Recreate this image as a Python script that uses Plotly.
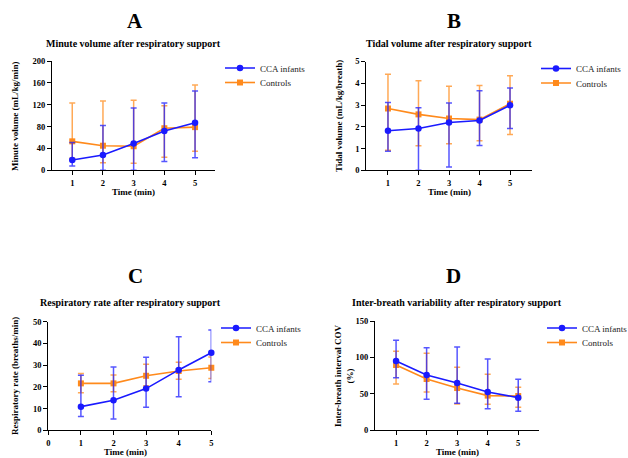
import plotly.graph_objects as go

W, H = 628, 458
time_min = [1, 2, 3, 4, 5]

# Panel A: Minute volume (mL/kg/min)
a_cca = [19, 28, 49, 72, 87]
a_cca_hi = [51, 82, 114, 123, 145]
a_cca_lo = [8, 0, 0, 16, 23]
a_ctl = [53, 45, 44, 77, 79]
a_ctl_hi = [123, 127, 128, 118, 156]
a_ctl_lo = [22, 14, 13, 24, 35]

# Panel B: Tidal volume (mL/kg/breath)
b_cca = [1.82, 1.92, 2.2, 2.29, 2.99]
b_cca_hi = [3.12, 2.88, 3.09, 3.66, 3.78]
b_cca_lo = [0.88, 0.0, 0.15, 1.14, 1.92]
b_ctl = [2.84, 2.57, 2.38, 2.33, 3.06]
b_ctl_hi = [4.41, 4.12, 3.86, 3.9, 4.35]
b_ctl_lo = [0.92, 1.13, 1.22, 1.36, 1.65]

# Panel C: Respiratory rate (breaths/min)
c_cca = [10.9, 13.8, 19.2, 27.8, 35.7]
c_cca_hi = [25.3, 29.1, 33.6, 43.1, 46.2]
c_cca_lo = [6.3, 5.2, 10.6, 15.5, 22.4]
c_ctl = [21.6, 21.6, 25.1, 27.3, 28.8]
c_ctl_hi = [26.1, 25.5, 30.4, 31.3, 33.7]
c_ctl_lo = [17.3, 17.8, 20.5, 23.5, 23.9]

# Panel D: Inter-breath interval COV (%)
d_cca = [95, 76, 65, 52.6, 44.8]
d_cca_hi = [123.5, 113.4, 114.3, 97.8, 70]
d_cca_lo = [72.2, 42.5, 37, 29.7, 26]
d_ctl = [89.6, 70.4, 58, 47.6, 47]
d_ctl_hi = [108.4, 105.6, 86.4, 76.8, 59]
d_ctl_lo = [63.6, 52.6, 36, 35.7, 31.5]

series_names = ["CCA infants", "Controls"]
letters = ["A", "B", "C", "D"]
subtitles = [
    "Minute volume after respiratory support",
    "Tidal volume after respiratory support",
    "Respiratory rate after respiratory support",
    "Inter-breath variability after respiratory support",
]
y_titles = [
    "Minute volume (mL/kg/min)",
    "Tidal volume (mL/kg/breath)",
    "Respiratory rate (breaths/min)",
    "Inter-breath interval COV<br>(%)",
]
y_ticks = [
    [0, 40, 80, 120, 160, 200],
    [0, 1, 2, 3, 4, 5],
    [0, 10, 20, 30, 40, 50],
    [0, 50, 100, 150],
]
x_ticks = [[1, 2, 3, 4, 5], [1, 2, 3, 4, 5], [0, 1, 2, 3, 4, 5], [1, 2, 3, 4, 5]]

panels = [
    (a_cca, a_cca_hi, a_cca_lo, a_ctl, a_ctl_hi, a_ctl_lo),
    (b_cca, b_cca_hi, b_cca_lo, b_ctl, b_ctl_hi, b_ctl_lo),
    (c_cca, c_cca_hi, c_cca_lo, c_ctl, c_ctl_hi, c_ctl_lo),
    (d_cca, d_cca_hi, d_cca_lo, d_ctl, d_ctl_hi, d_ctl_lo),
]

# layout geometry in pixels (left, right, top, bottom)
boxes = [
    (52, 215, 61, 170.3),
    (366.3, 531.7, 61.5, 170.3),
    (48.3, 211.3, 321.7, 430.3),
    (375, 539.3, 321, 430.3),
]
x_ranges = [[0.34, 5.65], [0.29, 5.71], [0, 5], [0.31, 5.69]]
y_ranges = [[0, 200], [0, 5], [0, 50], [0, 150]]

SERIF = "Liberation Serif, Times New Roman, serif"
BLUE = "#1a1aff"
BLUE_ERR = "rgba(30,30,255,0.75)"
ORANGE = "#ff8a1c"
ORANGE_ERR = "rgba(255,140,30,0.75)"

fig = go.Figure()
annotations = []
layout_axes = {}

letter_pos = [(135, 21), (454, 21), (135, 276), (454, 276)]
sub_pos = [(133, 43), (449, 43), (130, 302), (457, 302)]
xt_pos = [(133, 192), (449, 192), (125, 452), (457, 452)]
yt_pos = [(15, 116), (339, 116), (15, 376), (344, 376)]
# legend text start x, first item centre y
legend_pos = [(258, 69.5), (574, 70), (254, 329.5), (580, 329.5)]
legend_gap = 14.5
TEXT_OFFSET = 38
Y_FIX = -1.5

for i, (p, box) in enumerate(zip(panels, boxes)):
    cca, cca_hi, cca_lo, ctl, ctl_hi, ctl_lo = p
    n = "" if i == 0 else str(i + 1)
    xa, ya = "x" + n, "y" + n
    leg_cca = "legend" if i == 0 else "legend" + str(2 * i + 1)
    leg_ctl = "legend" + str(2 * i + 2)
    # Controls first (drawn underneath), CCA on top
    fig.add_trace(go.Scatter(
        x=time_min, y=ctl, xaxis=xa, yaxis=ya, name=series_names[1],
        mode="lines+markers", legend=leg_ctl, showlegend=True,
        line=dict(color=ORANGE, width=1.6),
        marker=dict(symbol="square", size=6, color=ORANGE),
        error_y=dict(type="data", symmetric=False,
                     array=[h - m for h, m in zip(ctl_hi, ctl)],
                     arrayminus=[m - l for m, l in zip(ctl, ctl_lo)],
                     color=ORANGE_ERR, thickness=1.5, width=3),
        cliponaxis=False,
    ))
    fig.add_trace(go.Scatter(
        x=time_min, y=cca, xaxis=xa, yaxis=ya, name=series_names[0],
        mode="lines+markers", legend=leg_cca, showlegend=True,
        line=dict(color=BLUE, width=1.6),
        marker=dict(symbol="circle", size=6.5, color=BLUE),
        error_y=dict(type="data", symmetric=False,
                     array=[h - m for h, m in zip(cca_hi, cca)],
                     arrayminus=[m - l for m, l in zip(cca, cca_lo)],
                     color=BLUE_ERR, thickness=1.5, width=3),
        cliponaxis=False,
    ))
    l, r, t, b = box
    axis_common = dict(
        showline=True, linecolor="black", linewidth=1.3,
        ticks="outside", ticklen=4, tickwidth=1.2, tickcolor="black",
        showgrid=False, zeroline=False,
        tickfont=dict(family=SERIF, size=8.5, color="black", weight="bold"),
    )
    layout_axes["xaxis" + n] = dict(
        axis_common, domain=[l / W, r / W], range=x_ranges[i],
        tickvals=x_ticks[i], anchor=ya,
    )
    layout_axes["yaxis" + n] = dict(
        axis_common, domain=[1 - b / H, 1 - t / H], range=y_ranges[i],
        tickvals=y_ticks[i], anchor=xa,
    )
    lx, ly = legend_pos[i]
    for k, leg in enumerate([leg_cca, leg_ctl]):
        layout_axes[leg] = dict(
            x=(lx - TEXT_OFFSET) / W, y=1 - (ly + Y_FIX + k * legend_gap) / H,
            xanchor="left", yanchor="middle", bgcolor="rgba(0,0,0,0)",
            font=dict(family=SERIF, size=9, color="#222"),
            itemwidth=30, borderwidth=0,
        )
    annotations.append(dict(
        text=letters[i], x=letter_pos[i][0] / W, y=1 - letter_pos[i][1] / H,
        xref="paper", yref="paper", showarrow=False, xanchor="center", yanchor="middle",
        font=dict(family=SERIF, size=21, color="black", weight="bold"),
    ))
    annotations.append(dict(
        text=subtitles[i], x=sub_pos[i][0] / W, y=1 - sub_pos[i][1] / H,
        xref="paper", yref="paper", showarrow=False, xanchor="center", yanchor="middle",
        font=dict(family=SERIF, size=10, color="black", weight="bold"),
    ))
    annotations.append(dict(
        text="Time (min)", x=xt_pos[i][0] / W, y=1 - xt_pos[i][1] / H,
        xref="paper", yref="paper", showarrow=False, xanchor="center", yanchor="middle",
        font=dict(family=SERIF, size=9, color="black", weight="bold"),
    ))
    annotations.append(dict(
        text=y_titles[i], x=yt_pos[i][0] / W, y=1 - yt_pos[i][1] / H,
        xref="paper", yref="paper", showarrow=False, xanchor="center", yanchor="middle",
        textangle=-90,
        font=dict(family=SERIF, size=9, color="black", weight="bold"),
    ))

fig.update_layout(
    width=W, height=H,
    margin=dict(l=0, r=0, t=0, b=0, autoexpand=False),
    paper_bgcolor="white", plot_bgcolor="white",
    showlegend=True,
    annotations=annotations,
    **layout_axes,
)

fig.write_html(
    "out.html",
    config={"displayModeBar": False},
    post_script="document.body.style.margin='0';",
)
